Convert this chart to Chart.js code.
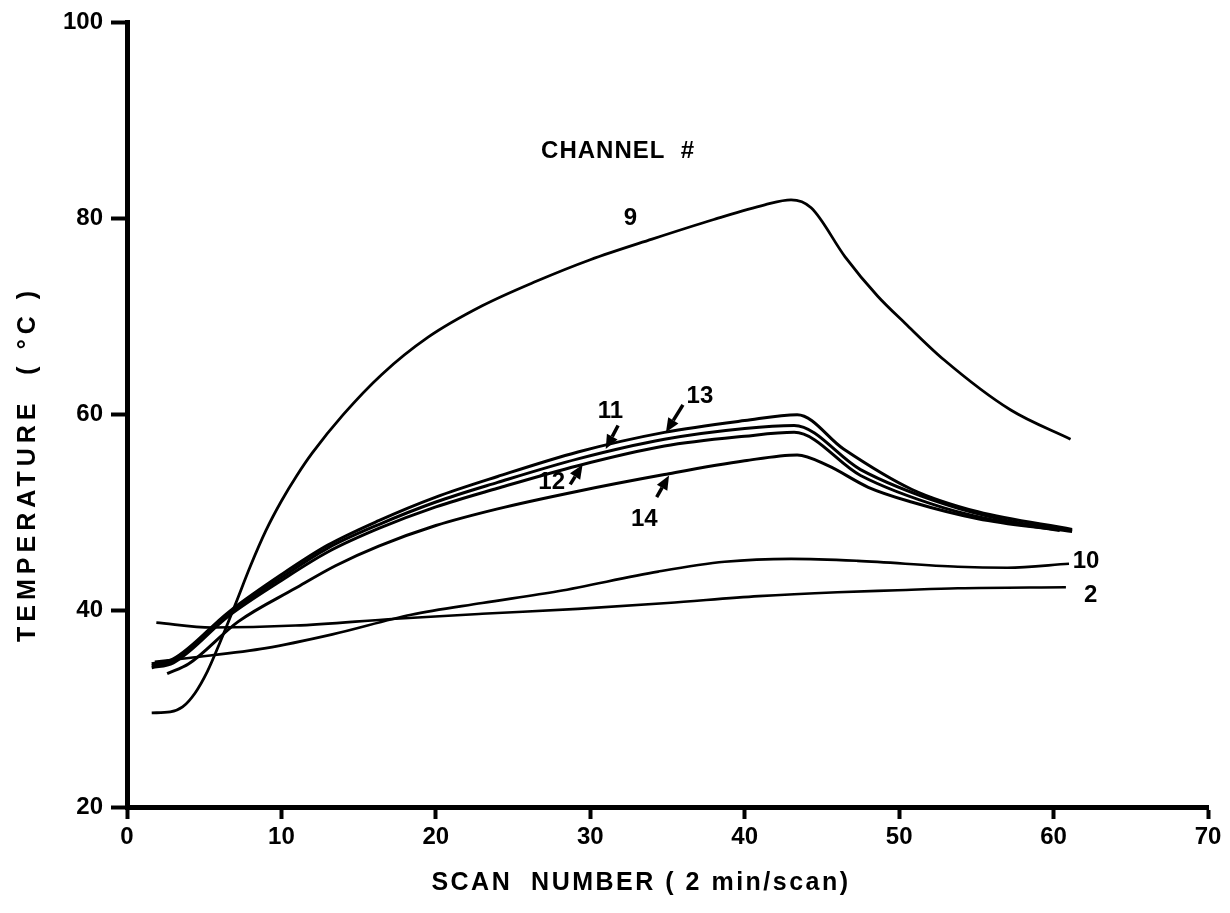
<!DOCTYPE html>
<html>
<head>
<meta charset="utf-8">
<title>Channel temperatures</title>
<script src="https://cdn.jsdelivr.net/npm/chart.js@4.4.1/dist/chart.umd.min.js"></script>
<style>
    html, body { margin: 0; padding: 0; background: #fff; }
    #chart { display: block; }
</style>
</head>
<body>
<canvas id="chart" width="1230" height="913"></canvas>
<script>
// ===== Datos (scan #, temperatura en C) =====
const ch9Scan  = [1.6, 2.8, 3.6, 4.4, 5.2, 6.0, 7.0, 8.0, 9.0, 10.0, 11.0, 12.0, 14.0, 16.5, 19.5, 23.0, 26.5, 30.0, 34.0, 38.0, 41.3, 43.0, 44.3, 46.5, 48.6, 50.4, 52.9, 57.2, 61.1];
const ch9Temp  = [29.6, 29.7, 30.2, 31.6, 33.8, 36.7, 40.6, 44.6, 48.2, 51.2, 53.8, 56.1, 60.0, 64.1, 67.9, 71.1, 73.6, 75.8, 77.9, 79.9, 81.4, 81.9, 81.1, 76.1, 72.1, 69.3, 65.6, 60.5, 57.5];

const ch2Scan  = [1.9, 5.5, 10.9, 17.4, 23.0, 29.2, 35.0, 40.9, 46.0, 49.9, 53.8, 60.8];
const ch2Temp  = [38.8, 38.3, 38.5, 39.2, 39.7, 40.2, 40.8, 41.5, 41.9, 42.1, 42.3, 42.4];

const ch10Scan = [1.8, 4.0, 9.0, 13.3, 18.4, 23.0, 27.9, 34.4, 38.7, 43.0, 47.3, 53.8, 57.0, 61.0];
const ch10Temp = [34.8, 35.2, 36.2, 37.6, 39.6, 40.8, 42.0, 44.0, 45.0, 45.3, 45.1, 44.5, 44.4, 44.8];

const ch13Scan = [1.6, 3.0, 6.6, 10.0, 13.0, 16.3, 20.0, 24.0, 29.2, 34.8, 40.0, 43.4, 46.4, 50.8, 55.1, 61.2];
const ch13Temp = [34.6, 35.1, 39.9, 43.7, 46.7, 49.2, 51.6, 53.7, 56.2, 58.2, 59.4, 60.0, 56.5, 52.4, 50.1, 48.3];

const ch11Scan = [1.6, 3.0, 6.6, 10.0, 13.0, 16.3, 20.0, 24.0, 29.2, 34.8, 40.0, 43.2, 47.5, 52.9, 57.0, 61.2];
const ch11Temp = [34.4, 34.9, 39.7, 43.4, 46.4, 48.8, 51.1, 53.1, 55.5, 57.5, 58.6, 58.9, 54.4, 50.9, 49.2, 48.2];

const ch12Scan = [1.6, 3.0, 6.6, 10.0, 13.0, 16.3, 20.0, 24.0, 29.2, 34.8, 40.0, 43.2, 47.5, 52.9, 57.0, 61.2];
const ch12Temp = [34.2, 34.7, 39.5, 43.1, 46.0, 48.4, 50.6, 52.5, 54.8, 56.8, 57.8, 58.2, 53.8, 50.5, 49.0, 48.1];

const ch14Scan = [2.6, 4.0, 7.2, 10.9, 13.5, 16.3, 20.0, 24.0, 29.2, 34.8, 40.0, 43.4, 45.4, 48.0, 50.8, 55.1, 60.4];
const ch14Temp = [33.6, 34.6, 38.9, 42.3, 44.6, 46.6, 48.7, 50.4, 52.2, 53.9, 55.3, 55.9, 54.8, 52.6, 51.1, 49.4, 48.2];

// Etiquetas de canal (texto, scan, temp)
const labelText = ['CHANNEL  #', '9', '11', '13', '12', '14', '10', '2'];
const labelScan = [31.8, 32.6, 31.3, 37.1, 27.5, 33.5, 62.1, 62.4];
const labelTemp = [86.8, 80.0, 60.3, 61.9, 53.1, 49.3, 45.0, 41.6];

// Flechas (desde -> hasta)
const arrowFromScan = [31.8, 36.0, 28.7, 34.3];
const arrowFromTemp = [58.9, 61.0, 52.9, 51.6];
const arrowToScan   = [31.0, 34.9, 29.5, 35.1];
const arrowToTemp   = [56.5, 58.2, 54.9, 53.8];

const xTicks = [0, 10, 20, 30, 40, 50, 60, 70];
const yTicks = [20, 40, 60, 80, 100];

const FONT = '"Liberation Sans", Arial, sans-serif';

function puntos(scan, temp) {
    return scan.map((s, i) => ({ x: s, y: temp[i] }));
}

function serie(nombre, scan, temp, ancho) {
    return {
        label: nombre,
        data: puntos(scan, temp),
        showLine: true,
        borderColor: '#000',
        borderWidth: ancho,
        pointRadius: 0,
        fill: false,
        cubicInterpolationMode: 'monotone'
    };
}

// Textos, flechas y titulos de ejes
const anotaciones = {
    id: 'anotaciones',
    afterDraw(chart) {
        const { ctx, scales: { x, y } } = chart;
        ctx.save();
        ctx.fillStyle = '#000';
        ctx.strokeStyle = '#000';
        ctx.textAlign = 'center';
        ctx.textBaseline = 'middle';

        labelText.forEach((t, i) => {
            ctx.font = 'bold 24px ' + FONT;
            ctx.letterSpacing = i === 0 ? '1px' : '0px';
            ctx.fillText(t, x.getPixelForValue(labelScan[i]), y.getPixelForValue(labelTemp[i]));
        });
        ctx.letterSpacing = '0px';

        arrowFromScan.forEach((s, i) => {
            const x0 = x.getPixelForValue(s), y0 = y.getPixelForValue(arrowFromTemp[i]);
            const x1 = x.getPixelForValue(arrowToScan[i]), y1 = y.getPixelForValue(arrowToTemp[i]);
            const ang = Math.atan2(y1 - y0, x1 - x0);
            const head = 14, half = 6;
            const bx = x1 - head * Math.cos(ang), by = y1 - head * Math.sin(ang);
            ctx.lineWidth = 3.5;
            ctx.beginPath();
            ctx.moveTo(x0, y0);
            ctx.lineTo(bx, by);
            ctx.stroke();
            ctx.beginPath();
            ctx.moveTo(x1, y1);
            ctx.lineTo(bx + half * Math.sin(ang), by - half * Math.cos(ang));
            ctx.lineTo(bx - half * Math.sin(ang), by + half * Math.cos(ang));
            ctx.closePath();
            ctx.fill();
        });

        // titulo eje X
        ctx.font = 'bold 25px ' + FONT;
        ctx.letterSpacing = '2.5px';
        ctx.fillText('SCAN  NUMBER ( 2 min/scan)', 641, 883);

        // titulo eje Y
        ctx.translate(28, 464);
        ctx.rotate(-Math.PI / 2);
        ctx.letterSpacing = '5px';
        ctx.fillText('TEMPERATURE  ( \u00B0C )', 0, 0);
        ctx.restore();
    }
};

function ejeComun(min, max, paso, ticks) {
    return {
        type: 'linear',
        min: min,
        max: max,
        afterBuildTicks: s => { s.ticks = ticks.map(v => ({ value: v })); },
        ticks: {
            stepSize: paso,
            color: '#000',
            font: { family: FONT, size: 24, weight: 'bold' }
        },
        grid: {
            display: true,
            drawOnChartArea: false,
            drawTicks: true,
            tickColor: '#000',
            tickWidth: 4
        },
        border: { display: true, color: '#000', width: 5 }
    };
}

document.addEventListener('DOMContentLoaded', function() {
    const ejeX = ejeComun(0, 70, 10, xTicks);
    ejeX.grid.tickLength = 12;
    ejeX.ticks.padding = 4;
    ejeX.afterFit = s => { s.height = 106; };

    const ejeY = ejeComun(20, 100, 20, yTicks);
    ejeY.grid.tickLength = 16;
    ejeY.ticks.padding = 8;
    ejeY.afterFit = s => { s.width = 127; };

    new Chart(document.getElementById('chart'), {
        type: 'scatter',
        data: {
            datasets: [
                serie('9', ch9Scan, ch9Temp, 2.8),
                serie('2', ch2Scan, ch2Temp, 2.6),
                serie('10', ch10Scan, ch10Temp, 2.6),
                serie('13', ch13Scan, ch13Temp, 3),
                serie('11', ch11Scan, ch11Temp, 3),
                serie('12', ch12Scan, ch12Temp, 3),
                serie('14', ch14Scan, ch14Temp, 3)
            ]
        },
        options: {
            responsive: false,
            animation: false,
            layout: { padding: { top: 17, right: 22, left: 0, bottom: 0 } },
            plugins: {
                legend: { display: false },
                tooltip: { enabled: false }
            },
            scales: { x: ejeX, y: ejeY }
        },
        plugins: [anotaciones]
    });
});
</script>
</body>
</html>
